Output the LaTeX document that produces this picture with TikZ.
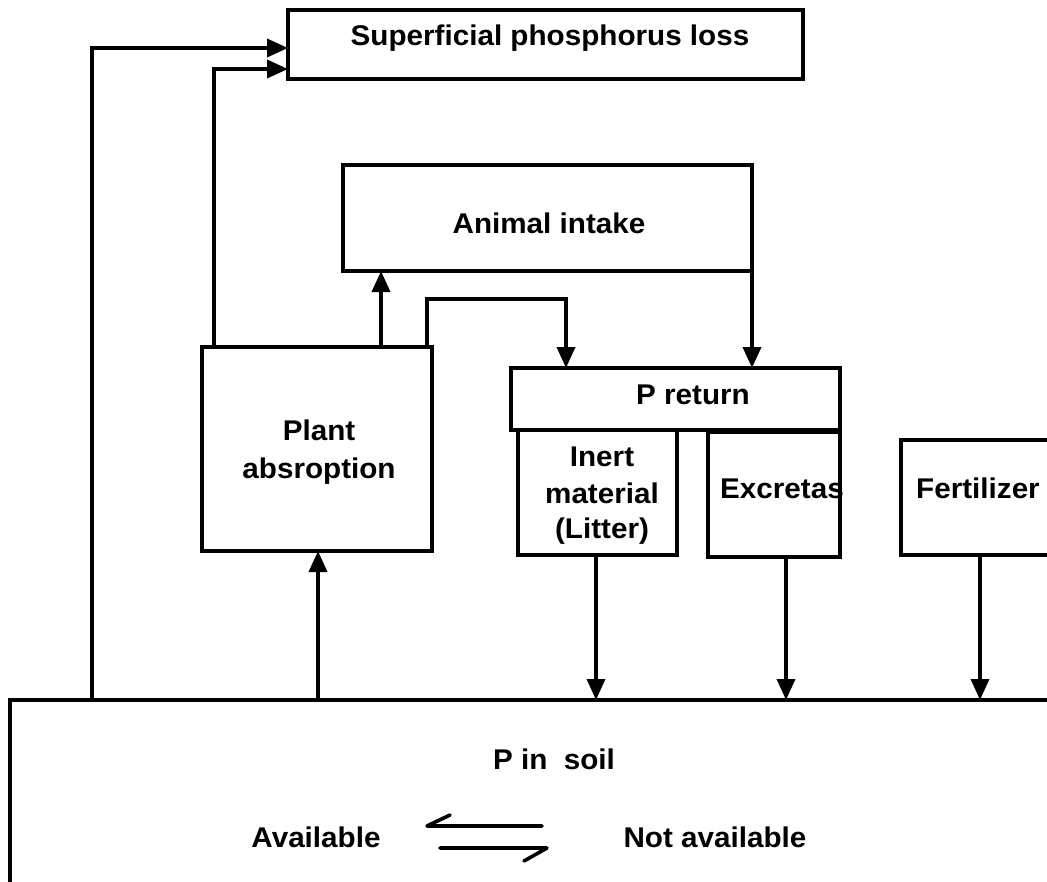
\documentclass[tikz,border=0pt]{standalone}
\usepackage{fontspec}
\setmainfont{Liberation Sans}[FakeStretch=1.04]
\usetikzlibrary{arrows.meta}
\begin{document}
\begin{tikzpicture}[x=1pt,y=-1pt,
  box/.style 2 args={draw,line width=3.8pt,inner sep=0pt,outer sep=0pt,anchor=north west,minimum width=#1pt,minimum height=#2pt},
  lbl/.style={anchor=base,inner sep=0pt,font=\fontsize{28.5}{34}\selectfont\bfseries},
  arr/.style={line width=3.6pt,-{Triangle[length=21pt,width=18pt]}},
  eq/.style={line width=3.6pt,line cap=round,line join=round}]
\clip (0,0) rectangle (1047,881);
\fill[white] (0,0) rectangle (1047,881);
% boxes
\node[box={515}{69}] (sup) at (288,10) {};
\node[box={409}{106}] (animal) at (343,165) {};
\node[box={230}{204}] (plant) at (202,347) {};
\node[box={329}{62}] (ret) at (511,368) {};
\node[box={159}{125}] (inert) at (518,430) {};
\node[box={132}{125}] (excr) at (708,432) {};
\node[box={300}{115}] (fert) at (901,440) {};
\node[box={1200}{400}] (soil) at (10,700) {};
% helper coordinates
\coordinate (xl) at (92,0);
\coordinate (xp) at (214,0);
\coordinate (xa) at (381,0);
\coordinate (xr) at (427,0);
\coordinate (xi) at (566,0);
\coordinate (xm) at (752,0);
\coordinate (xn) at (596,0);
\coordinate (xe) at (786,0);
\coordinate (xf) at (980,0);
\coordinate (xs) at (318,0);
\coordinate (ya) at (0,48);
\coordinate (yb) at (0,69);
\coordinate (yc) at (0,299);
% connectors
\draw[arr] (soil.north -| xl) |- (sup.west |- ya);
\draw[arr] (plant.north -| xp) |- (sup.west |- yb);
\draw[arr] (plant.north -| xa) -- (animal.south -| xa);
\draw[arr] (plant.north -| xr) |- (yc -| xi) -- (ret.north -| xi);
\draw[arr] (animal.south -| xm) -- (ret.north -| xm);
\draw[arr] (inert.south -| xn) -- (soil.north -| xn);
\draw[arr] (excr.south -| xe) -- (soil.north -| xe);
\draw[arr] (fert.south -| xf) -- (soil.north -| xf);
\draw[arr] (soil.north -| xs) -- (plant.south -| xs);
% texts
\node[lbl] (tsup) at (550,45) {Superficial phosphorus loss};
\node[lbl] (tani) at (549,233) {Animal intake};
\node[lbl] (tpl1) at (319,440) {Plant};
\node[lbl] (tpl2) at (319,478) {absroption};
\node[lbl] (tret) at (693,404) {P return};
\node[lbl] (tin1) at (602,466) {Inert};
\node[lbl] (tin2) at (602,503) {material};
\node[lbl] (tin3) at (602,538) {(Litter)};
\node[lbl] (texc) at (782,498) {Excretas};
\node[lbl] (tfer) at (978,498) {Fertilizer};
\node[lbl] (tsoil) at (554,769) {P in~ soil};
\node[lbl] (tav) at (316,847) {Available};
\node[lbl] (tnav) at (715,847) {Not available};
% equilibrium arrows
\draw[eq] (542,826) -- (427,826) -- (450,815);
\draw[eq] (440,848) -- (547,848) -- (524,861);
\end{tikzpicture}
\end{document}
